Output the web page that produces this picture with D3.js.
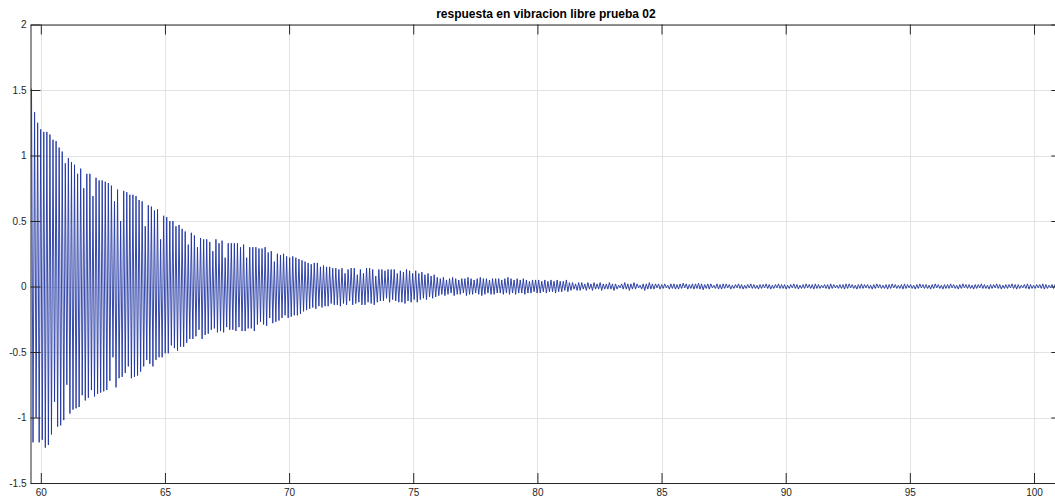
<!DOCTYPE html>
<html>
<head>
<meta charset="utf-8">
<script src="https://cdn.jsdelivr.net/npm/d3@7"></script>
<style>
  html, body { margin: 0; padding: 0; background: #fff; overflow: hidden; }
  svg { display: block; overflow: hidden; }
  text { font-family: "Liberation Sans", Arial, Helvetica, sans-serif; }
</style>
</head>
<body>
<svg id="chart" width="1055" height="502"></svg>
<script>
// ---- data ----
const chartTitle = "respuesta en vibracion libre prueba 02";
const xTicks = [60, 65, 70, 75, 80, 85, 90, 95, 100];
const yTicks = [-1.5, -1, -0.5, 0, 0.5, 1, 1.5, 2];
const xDomain = [59.585, 101.1];
const yDomain = [-1.5, 2];
// time of first positive peak and oscillation period (s)
const sampleStart = 59.625;
const cyclePeriod = 0.1238;
// positive peak of each cycle
const peakValues = [
  1.51,1.33,1.25,1.20,1.18,1.18,1.16,1.12,1.11,1.06,
  1.03,0.94,0.98,0.95,0.93,0.86,0.90,0.75,0.86,0.86,
  0.69,0.83,0.81,0.81,0.80,0.79,0.77,0.65,0.74,0.50,
  0.73,0.72,0.70,0.70,0.69,0.66,0.65,0.46,0.62,0.61,
  0.58,0.59,0.36,0.54,0.53,0.50,0.50,0.46,0.47,0.44,
  0.42,0.32,0.41,0.39,0.30,0.37,0.36,0.36,0.34,0.27,
  0.36,0.33,0.35,0.22,0.33,0.33,0.33,0.33,0.30,0.32,
  0.22,0.30,0.30,0.30,0.29,0.29,0.30,0.26,0.27,0.19,
  0.25,0.24,0.25,0.23,0.22,0.23,0.22,0.21,0.20,0.19,
  0.18,0.17,0.18,0.18,0.15,0.16,0.15,0.15,0.14,0.14,
  0.13,0.14,0.10,0.13,0.14,0.14,0.09,0.13,0.10,0.14,
  0.14,0.13,0.08,0.13,0.13,0.12,0.13,0.13,0.13,0.10,
  0.12,0.11,0.13,0.12,0.10,0.12,
  0.10,0.11,0.09,0.10,0.08,0.09,
  0.07,0.06,0.07,0.05,0.06,0.07,0.06,0.05,0.06,0.06,0.07,0.06,0.05,0.06,0.07,0.06,0.06,0.05,0.06,0.06,
  0.06,0.05,0.06,0.07,0.06,0.05,0.06,0.05,0.06,0.05,0.04,0.05,0.05,
  0.05,0.04,0.05,0.04,0.05,0.04,0.05,0.04,0.04,0.05,
  0.03,0.03,0.02,0.03,0.03,0.02,0.03,0.02,0.03,
  0.02,0.03,0.02,0.02,0.03,0.02,0.02,0.01,0.02,0.03,0.02,0.02,0.03,0.02,0.01,0.02,0.02,0.03,0.02,0.02,
  0.02,0.015,0.02,0.01,0.02,0.02,0.015,0.02,0.025,0.02,0.015,0.02,
  0.02,0.025,0.02,0.015,0.02,0.02,0.01,0.02,0.015,0.02,0.02,0.015,
  0.01,0.015,0.02,0.015,0.01,0.015,0.02,0.015,0.01,0.015,0.015,0.02,
  0.015,0.01,0.015,0.02,0.015,0.015,0.01,0.015,0.02,0.015,0.01,0.015,
  0.02,0.015,0.015,0.02,0.015,0.01,0.015,0.015,0.02,0.015,0.01,0.015,
  0.015,0.02,0.02,0.015,0.01,0.015,0.02,0.015,0.015,0.01,0.015,0.02,
  0.015,0.01,0.015,0.015,0.02,0.015,0.01,0.015,0.02,0.015,0.015,0.01,
  0.015,0.02,0.015,0.015,0.01,0.015,0.02,0.015,0.01,0.015,0.015,0.02,
  0.015,0.01,0.015,0.02,0.015,0.015,0.01,0.015,0.015,0.02,0.015,0.01,
  0.015,0.015,0.02,0.015,0.01,0.015,0.015,0.02,0.015,0.015,0.01,0.015,
  0.02,0.015,0.01,0.015,0.015,0.02,0.015,0.01,0.015,0.015,0.02,0.015
];
// negative trough of each cycle (half a period after the peak)
const troughValues = [
  -1.19,-1.00,-1.19,-1.17,-1.23,-1.21,-1.13,-0.88,-1.07,-1.06,
  -1.02,-0.75,-0.97,-0.94,-0.93,-0.92,-0.83,-0.87,-0.85,-0.79,
  -0.84,-0.82,-0.81,-0.80,-0.79,-0.72,-0.54,-0.77,-0.70,-0.69,-0.66,
  -0.61,-0.70,-0.69,-0.68,-0.65,-0.61,-0.56,-0.59,-0.61,-0.56,
  -0.54,-0.54,-0.51,-0.51,-0.45,-0.47,-0.49,-0.46,-0.46,-0.43,-0.40,
  -0.40,-0.38,-0.33,-0.40,-0.37,-0.36,-0.33,-0.32,-0.35,-0.34,
  -0.35,-0.31,-0.33,-0.33,-0.34,-0.31,-0.34,-0.34,-0.32,-0.32,
  -0.34,-0.29,-0.27,-0.29,-0.30,-0.24,-0.28,-0.27,-0.26,-0.24,
  -0.22,-0.24,-0.23,-0.22,-0.22,-0.21,-0.19,-0.18,-0.17,-0.16,
  -0.17,-0.15,-0.16,-0.15,-0.15,-0.13,-0.14,-0.14,-0.15,-0.13,
  -0.14,-0.11,-0.14,-0.13,-0.12,-0.14,-0.14,-0.12,-0.13,-0.14,
  -0.12,-0.11,-0.11,-0.09,-0.12,-0.10,-0.11,-0.12,
  -0.12,-0.13,-0.11,-0.12,-0.10,-0.12,
  -0.10,-0.09,-0.10,-0.08,-0.09,-0.08,
  -0.07,-0.06,-0.07,-0.06,-0.05,-0.07,-0.06,-0.06,-0.05,-0.07,-0.06,-0.06,-0.05,-0.06,-0.07,-0.06,-0.05,-0.06,-0.06,-0.05,
  -0.05,-0.06,-0.05,-0.06,-0.05,-0.06,-0.05,-0.05,-0.06,-0.05,-0.05,-0.04,-0.05,
  -0.05,-0.04,-0.05,-0.04,-0.04,-0.05,-0.04,-0.04,-0.03,-0.04,
  -0.03,-0.02,-0.03,-0.03,-0.02,-0.03,-0.02,-0.03,-0.02,
  -0.02,-0.03,-0.02,-0.02,-0.02,-0.03,-0.02,-0.01,-0.02,-0.02,-0.03,-0.02,-0.02,-0.01,-0.02,-0.03,-0.02,-0.02,-0.02,-0.01,
  -0.02,-0.015,-0.01,-0.02,-0.015,-0.02,-0.02,-0.015,-0.01,-0.02,-0.015,-0.02,
  -0.015,-0.02,-0.025,-0.015,-0.02,-0.01,-0.015,-0.02,-0.02,-0.015,-0.01,-0.02,
  -0.015,-0.01,-0.015,-0.02,-0.015,-0.01,-0.015,-0.015,-0.02,-0.015,-0.01,-0.015,
  -0.02,-0.015,-0.01,-0.015,-0.015,-0.02,-0.015,-0.01,-0.015,-0.02,-0.015,-0.015,
  -0.01,-0.015,-0.02,-0.015,-0.015,-0.01,-0.015,-0.02,-0.015,-0.01,-0.015,-0.015,
  -0.02,-0.015,-0.01,-0.015,-0.02,-0.015,-0.015,-0.01,-0.015,-0.02,-0.015,-0.01,
  -0.015,-0.015,-0.02,-0.015,-0.01,-0.015,-0.015,-0.02,-0.015,-0.01,-0.015,-0.02,
  -0.015,-0.01,-0.015,-0.015,-0.02,-0.015,-0.01,-0.015,-0.02,-0.015,-0.015,-0.01,
  -0.015,-0.02,-0.015,-0.01,-0.015,-0.015,-0.02,-0.015,-0.01,-0.015,-0.015,-0.02,
  -0.015,-0.01,-0.015,-0.02,-0.015,-0.015,-0.01,-0.015,-0.02,-0.015,-0.01,-0.015,
  -0.02,-0.015,-0.015,-0.01,-0.015,-0.02,-0.015,-0.01,-0.015,-0.015,-0.02,-0.015
];

// ---- layout ----
const svg = d3.select("#chart");
const padL = 30.5, padR = 1061.3, padT = 24.5, padB = 483;
const x = d3.scaleLinear().domain(xDomain).range([padL, padR]);
const y = d3.scaleLinear().domain(yDomain).range([padB, padT]);
const axisColor = "#262626";

// grid
const grid = svg.append("g").attr("stroke", "#e3e3e3").attr("stroke-width", 1);
grid.selectAll(".gx").data(xTicks).join("line")
  .attr("x1", d => Math.round(x(d)) + 0.5).attr("x2", d => Math.round(x(d)) + 0.5)
  .attr("y1", padT).attr("y2", padB);
grid.selectAll(".gy").data(yTicks).join("line")
  .attr("y1", d => Math.round(y(d)) + 0.5).attr("y2", d => Math.round(y(d)) + 0.5)
  .attr("x1", padL).attr("x2", padR);

// signal: alternating peaks and troughs
const nCycles = Math.min(peakValues.length, troughValues.length);
const points = [];
for (let i = 0; i < nCycles; i++) {
  points.push([sampleStart + i * cyclePeriod, peakValues[i]]);
  points.push([sampleStart + (i + 0.5) * cyclePeriod, troughValues[i]]);
}
svg.append("clipPath").attr("id", "plotclip").append("rect")
  .attr("x", padL).attr("y", padT).attr("width", padR - padL).attr("height", padB - padT);
svg.append("path")
  .datum(points)
  .attr("clip-path", "url(#plotclip)")
  .attr("fill", "none")
  .attr("stroke", "#1f34a0")
  .attr("stroke-width", 0.9)
  .attr("d", d3.line().x(d => x(d[0])).y(d => y(d[1])));

// axes
function styleAxis(g) {
  g.selectAll(".domain").attr("stroke", axisColor);
  g.selectAll(".tick line").attr("stroke", axisColor);
  g.selectAll(".tick text").attr("fill", axisColor).style("font-size", "10px")
    .style("font-family", "'Liberation Sans', Arial, Helvetica, sans-serif");
}
const fmt = d => String(d);
svg.append("g").attr("transform", `translate(0,${padB})`)
  .call(d3.axisBottom(x).tickValues(xTicks).tickFormat(fmt).tickSizeInner(-10).tickSizeOuter(0).tickPadding(6))
  .call(styleAxis);
svg.append("g").attr("transform", `translate(0,${padT})`)
  .call(d3.axisTop(x).tickValues(xTicks).tickFormat("").tickSizeInner(-10).tickSizeOuter(0))
  .call(styleAxis);
svg.append("g").attr("transform", `translate(${padL},0)`)
  .call(d3.axisLeft(y).tickValues(yTicks).tickFormat(fmt).tickSizeInner(-10).tickSizeOuter(0).tickPadding(4))
  .call(styleAxis);
svg.append("g").attr("transform", `translate(${padR},0)`)
  .call(d3.axisRight(y).tickValues(yTicks).tickFormat("").tickSizeInner(-10).tickSizeOuter(0))
  .call(styleAxis);

// title
svg.append("text")
  .attr("x", (padL + padR) / 2).attr("y", 17.5)
  .attr("text-anchor", "middle")
  .attr("fill", "#000")
  .style("font-size", "12px").style("font-weight", "bold")
  .text(chartTitle);
</script>
</body>
</html>
